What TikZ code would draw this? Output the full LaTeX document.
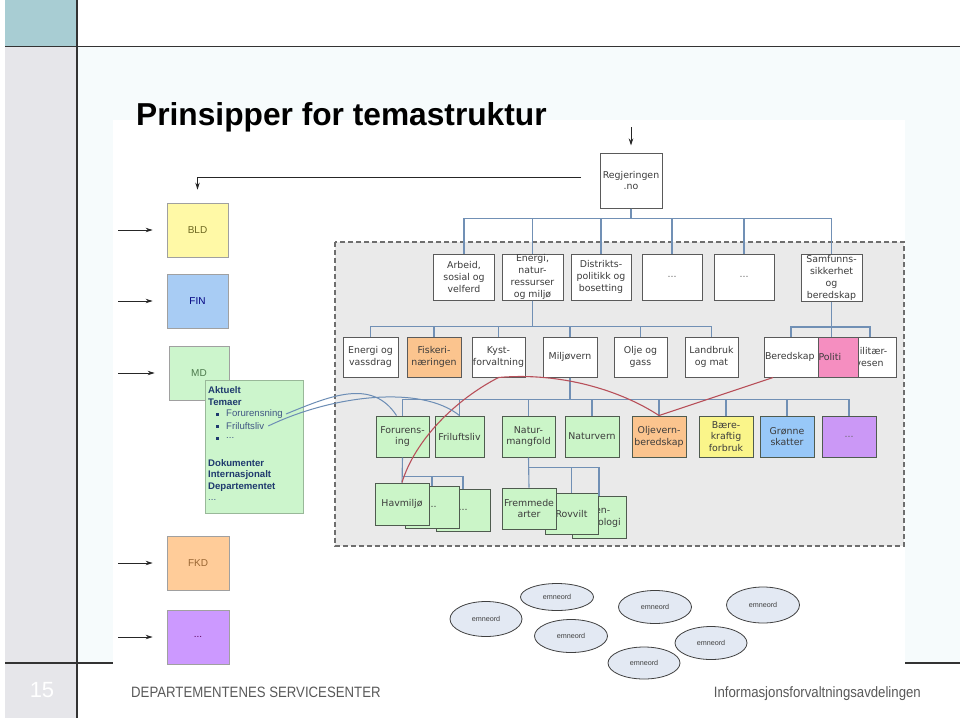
\documentclass[tikz,border=0pt]{standalone}
\usepackage{fontspec}
\setmainfont{Liberation Sans}
\newfontfamily\dv{DejaVu Sans}
\newfontfamily\narrowfont[FakeStretch=0.88]{Liberation Sans}
\usetikzlibrary{arrows.meta,shapes.geometric}
\definecolor{teal}{HTML}{A8CDD3}
\definecolor{strip}{HTML}{E6E6EA}
\definecolor{contentbg}{HTML}{F6FBFC}
\definecolor{dashfill}{HTML}{EAEAEA}
\definecolor{dashline}{HTML}{6E6E6E}
\definecolor{bxline}{HTML}{5A5A5A}
\definecolor{txt}{HTML}{3C3C3C}
\definecolor{gfill}{HTML}{CBF5C8}
\definecolor{gline}{HTML}{4F5B4F}
\definecolor{orng}{HTML}{FBC48E}
\definecolor{pinkf}{HTML}{F58EC0}
\definecolor{yelf}{HTML}{FAF58A}
\definecolor{bluef}{HTML}{98C8F8}
\definecolor{purf}{HTML}{CB98F6}
\definecolor{cblue}{HTML}{7190B5}
\definecolor{cred}{HTML}{B8505A}
\definecolor{cblue2}{HTML}{6C8DB5}
\definecolor{efill}{HTML}{E3E9F3}
\definecolor{bldf}{HTML}{FFF9A6}
\definecolor{finf}{HTML}{A8CCF4}
\definecolor{mdf}{HTML}{CCF5CC}
\definecolor{fkdf}{HTML}{FFCC99}
\definecolor{plf}{HTML}{CC99FF}
\definecolor{lline}{HTML}{A0A0A0}
\definecolor{navy}{HTML}{1F3A6E}
\definecolor{foot}{HTML}{595959}
\begin{document}
\begin{tikzpicture}[x=1pt,y=-1pt,
  wh/.style 2 args={minimum width=#1, minimum height=#2},
  box/.style={draw=bxline, line width=1pt, fill=white, inner sep=0pt, align=center, text=txt, font=\dv\fontsize{9.4}{11.8}\selectfont},
  gbox/.style={box, fill=gfill, draw=gline},
  lbox/.style={draw=lline, line width=0.8pt, inner sep=0pt, font=\fontsize{10}{12}\selectfont},
  conn/.style={draw=cblue, line width=1.1pt},
  redc/.style={draw=cred, line width=1.1pt},
  bluc/.style={draw=cblue2, line width=1pt},
  arr/.style={-{Stealth[length=7pt,width=4.5pt]}, line width=0.9pt, draw=black!85},
  emn/.style={ellipse, draw=black!75, line width=0.8pt, fill=efill, inner sep=0pt, font=\fontsize{7.2}{8}\selectfont, text=black!75},
  lt/.style={anchor=west, inner sep=0pt, font=\fontsize{9.6}{11}\selectfont, text=navy},
  bul/.style={fill=navy, inner sep=0pt, minimum size=3pt}
]
\useasboundingbox (0,0) rectangle (960,718);
% slide frame
\fill[white] (0,0) rectangle (960,718);
\fill[contentbg] (77,47) rectangle (960,663);
\fill[teal] (5,0) rectangle (77,46);
\fill[strip] (5,47) rectangle (77,718);
\draw[black!80, line width=1.2pt] (5,46.5) -- (960,46.5);
\draw[black!80, line width=1.2pt] (5,663) -- (960,663);
\draw[black!80, line width=1.2pt] (77,0) -- (77,718);
% screenshot
\fill[white] (113,120) rectangle (905,682);
\draw[dashline, fill=dashfill, line width=1.2pt, dash pattern=on 5pt off 3pt] (335,242) rectangle (904,546);

% top node
\node[box, wh={62}{55}] (reg) at (631,180.5) {Regjeringen\\.no};
% row 1
\node[box, wh={61}{46}] (arb) at (464,277) {Arbeid,\\sosial og\\velferd};
\node[box, wh={61}{46}] (ene) at (532.5,277) {Energi,\\natur-\\ressurser\\og miljø};
\node[box, wh={60}{46}] (dis) at (601,277) {Distrikts-\\politikk og\\bosetting};
\node[box, wh={60}{46}] (da) at (672,277) {\textcolor{black!60}{...}};
\node[box, wh={60}{46}] (db) at (744,277) {\textcolor{black!60}{...}};
\node[box, wh={61}{47}] (sam) at (831.5,278) {Samfunns-\\sikkerhet\\og\\beredskap};
% row 2
\node[box, wh={55}{40}] (env) at (370.5,357) {Energi og\\vassdrag};
\node[box, wh={54}{40}, fill=orng] (fis) at (434,357) {Fiskeri-\\næringen};
\node[box, wh={53}{40}] (kys) at (498.5,357) {Kyst-\\forvaltning};
\node[box, wh={54}{40}] (mil) at (570,357) {Miljøvern};
\node[box, wh={53}{40}] (olj) at (640.5,357) {Olje og\\gass};
\node[box, wh={53}{40}] (lan) at (711.5,357) {Landbruk\\og mat};
\node[box, wh={56}{40}] (mlv) at (868,357) {\hspace*{3pt}Militær-\\\hspace*{3pt}vesen};
\node[box, wh={54}{40}, align=left, text width=52pt] (ber) at (791,357) {Beredskap};
\node[box, wh={40}{40}, fill=pinkf, align=left, text width=39pt] (pol) at (838,357) {Politi};
% row 3
\node[gbox, wh={53}{41}] (foru) at (402.5,436.5) {Forurens-\\ing};
\node[gbox, wh={49}{41}] (fril) at (459.5,436.5) {Friluftsliv};
\node[gbox, wh={53}{41}] (natm) at (528.5,436.5) {Natur-\\mangfold};
\node[gbox, wh={54}{41}] (natv) at (592,436.5) {Naturvern};
\node[gbox, wh={54}{41}, fill=orng] (oljv) at (659,436.5) {Oljevern-\\beredskap};
\node[gbox, wh={54}{41}, fill=yelf] (baer) at (726,436.5) {Bære-\\kraftig\\forbruk};
\node[gbox, wh={54}{41}, fill=bluef] (gron) at (787,436.5) {Grønne\\skatter};
\node[gbox, wh={54}{41}, fill=purf] (pur) at (849,436.5) {\textcolor{black!60}{...}};
% row 4
\node[gbox, wh={54}{42}] (hav3) at (463,510) {...};
\node[gbox, wh={54}{42}] (hav2) at (432,507) {...};
\node[gbox, wh={54}{42}] (hav) at (402,504) {Havmiljø};
\node[gbox, wh={54}{42}] (gen) at (599,517) {Gen-\\teknologi};
\node[gbox, wh={53}{41}] (rov) at (571.5,513.5) {Rovvilt};
\node[gbox, wh={54}{41}] (frem) at (529,508.5) {Fremmede\\arter};

% tree connectors
\foreach \n in {arb,ene,dis,da,db,sam} \draw[conn] (reg.south) -- ++(0,10) -| (\n.north);
\foreach \n in {env,fis,kys,mil,olj,lan} \draw[conn] (ene.south) -- ++(0,26) -| (\n.north);
\draw[conn] (sam.south) -- ++(0,25) -| (ber.north);
\draw[conn] (sam.south) -- ++(0,25) -| ([xshift=2pt]mlv.north);
\draw[conn] (sam.south) -- (pol.north -| sam.south);
\foreach \n in {foru,fril,natm,natv,oljv,baer,gron,pur} \draw[conn] (mil.south) -- ++(0,22) -| (\n.north);
\draw[conn] (foru.south) -- (hav.north);
\foreach \n in {hav2,hav3} \draw[conn] (foru.south) -- ++(0,19) -| (\n.north);
\draw[conn] (natm.south) -- (frem.north);
\foreach \n in {rov,gen} \draw[conn] (natm.south) -- ++(0,10) -| (\n.north);

% left column
\node[lbox, wh={61}{54}, fill=bldf, text=olive!70!black] (bld) at (197.5,230) {BLD};
\node[lbox, wh={61}{54}, fill=finf, text=blue!50!black] (fin) at (197.5,301) {FIN};
\node[lbox, wh={60}{54}, fill=mdf, text=green!25!black!70] (md) at (199,373) {MD};
\node[lbox, wh={98}{133}, fill=mdf, draw=green!30!black!40] (lst) at (254,446.5) {};
\node[lbox, wh={62}{54}, fill=fkdf, text=brown!80!black] (fkd) at (198,563) {FKD};
\node[lbox, wh={62}{54}, fill=plf, text=violet!70!black] (pl) at (198,637) {...};
% list text
\node[lt, font=\bfseries\fontsize{9.6}{11}\selectfont] (l1) at (208,390) {Aktuelt};
\node[lt, font=\bfseries\fontsize{9.6}{11}\selectfont] (l2) at (208,402) {Temaer};
\node[bul] (b1) at (217,414) {};
\node[bul] (b2) at (217,426) {};
\node[bul] (b3) at (217,438) {};
\node[lt, text=navy!85] (l3) at (226,414) {Forurensning};
\node[lt, text=navy!85] (l4) at (226,426) {Friluftsliv};
\node[lt, text=navy!85] (l5) at (226,438) {...};
\node[lt, font=\bfseries\fontsize{9.6}{11}\selectfont] (l6) at (208,463) {Dokumenter};
\node[lt, font=\bfseries\fontsize{9.6}{11}\selectfont] (l7) at (208,475) {Internasjonalt};
\node[lt, font=\bfseries\fontsize{9.6}{11}\selectfont] (l8) at (208,487) {Departementet};
\node[lt, text=navy!85] (l9) at (208,500) {...};

% arrows
\coordinate (t0) at (631,127);
\draw[arr, shorten >=7pt] (t0) -- (reg.north);
\coordinate (t1) at (581,177);
\draw[arr, line width=0.8pt, shorten >=13pt] (t1) -| (bld.north);
\foreach \n/\c in {bld/a1,fin/a2,md/a3,fkd/a4,pl/a5}{
  \coordinate (\c) at (118,0 |- \n.west);
  \draw[arr, shorten >=14pt] (\c) -- (\n.west);
}

% cross links
\draw[redc] (kys.south) .. controls (455,400) and (415,440) .. (hav.north);
\draw[redc] (kys.south) .. controls (560,372) and (620,390) .. (oljv.north);
\draw[redc] ([xshift=-18pt]ber.south) -- (oljv.north);
\draw[bluc] ([xshift=3pt]l3.east) .. controls (330,396) and (372,378) .. ([xshift=-6pt]foru.north);
\draw[bluc] ([xshift=4pt]l4.east) .. controls (330,396) and (420,384) .. (fril.north);

% keywords
\node[emn, wh={72}{35}] (e1) at (486,619) {emneord};
\node[emn, wh={73}{27}] (e2) at (557,597) {emneord};
\node[emn, wh={73}{33}] (e3) at (571,636) {emneord};
\node[emn, wh={73}{33}] (e4) at (655,607) {emneord};
\node[emn, wh={73}{36}] (e5) at (763,605) {emneord};
\node[emn, wh={72}{33}] (e6) at (711,643) {emneord};
\node[emn, wh={72}{32}] (e7) at (644,663) {emneord};

% title and footer
\node[anchor=base west, inner sep=0pt, font=\bfseries\fontsize{31.7}{36}\selectfont] (title) at (136,125) {Prinsipper for temastruktur};
\node[anchor=base west, inner sep=0pt, text=foot, font=\narrowfont\fontsize{15}{18}\selectfont] (f1) at (131,697) {DEPARTEMENTENES SERVICESENTER};
\node[anchor=base east, inner sep=0pt, text=foot, font=\narrowfont\fontsize{15}{18}\selectfont] (f2) at (921,697) {Informasjonsforvaltningsavdelingen};
\node[inner sep=0pt, text=white, font=\fontsize{22}{24}\selectfont] (pg) at (42,690) {15};
\end{tikzpicture}
\end{document}
